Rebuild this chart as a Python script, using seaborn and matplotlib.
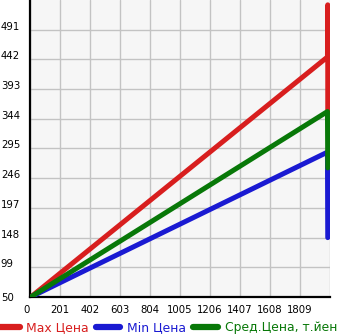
import matplotlib
matplotlib.use("Agg")
import matplotlib.pyplot as plt
import seaborn as sns
import pandas as pd
from matplotlib.lines import Line2D

# Data
max_x = [5, 1993, 1995, 1995]
max_y = [50, 446, 532, 353]
min_x = [5, 1993, 1995]
min_y = [50, 289, 148]
avg_x = [5, 1993, 1995]
avg_y = [50, 356, 263]

series_names = ["Max Цена", "Min Цена", "Сред.Цена, т.йен"]
series_colors = ["#d81e1e", "#1a1ad2", "#087808"]

x_ticks = [0, 201, 402, 603, 804, 1005, 1206, 1407, 1608, 1809]
y_ticks = [50, 99, 148, 197, 246, 295, 344, 393, 442, 491]

sns.set_theme(style="white")
plt.rcParams['font.family'] = ['DejaVu Sans']

fig = plt.figure(figsize=(3.45, 3.35), dpi=100)
ax = fig.add_axes([30/345, 38/335, 300/345, 297/335])
ax.set_facecolor("#f6f6f6")

frames = []
for name, xs, ys in zip(series_names, [max_x, min_x, avg_x], [max_y, min_y, avg_y]):
    frames.append(pd.DataFrame({"x": xs, "y": ys, "s": name}))
df = pd.concat(frames, ignore_index=True)

sns.lineplot(data=df, x="x", y="y", hue="s", palette=dict(zip(series_names, series_colors)),
             estimator=None, sort=False, units="s", lw=3.6, ax=ax, legend=False,
             solid_capstyle="round", zorder=3)

ax.set_xlim(0, 2010)
ax.set_ylim(50, 540)
ax.set_xticks(x_ticks + [2010])
ax.set_xticklabels([str(v) for v in x_ticks] + [""])
ax.set_yticks(y_ticks)
ax.set_yticklabels([str(v) for v in y_ticks])
ax.set_xlabel("")
ax.set_ylabel("")

ax.grid(True, color="#c3c3c3", lw=1.0, zorder=0)
ax.set_axisbelow(True)
for s in ["top", "right"]:
    ax.spines[s].set_visible(False)
for s in ["left", "bottom"]:
    ax.spines[s].set_color("black")
    ax.spines[s].set_linewidth(1.6)

ax.tick_params(axis="both", which="both", direction="out", length=3, width=1,
               color="black", labelsize=7.3, labelcolor="black")
ax.tick_params(axis="y", pad=18)
ax.tick_params(axis="x", pad=3)
ylabs = ax.get_yticklabels()
for i, lab in enumerate(ylabs):
    lab.set_ha("left")
    if i > 0:
        lab.set_va("baseline")
xlabs = ax.get_xticklabels()
xlabs[0].set_ha("right")

handles = [Line2D([0], [0], color=c, lw=4.5, solid_capstyle="round") for c in series_colors]
leg = fig.legend(handles, series_names, loc="center left", bbox_to_anchor=(-0.015, 7/335),
                 ncol=3, frameon=False, fontsize=8.9, handlelength=2.0, handletextpad=0.55,
                 columnspacing=0.55, borderaxespad=0, borderpad=0)
for t, c in zip(leg.get_texts(), series_colors):
    t.set_color(c)

fig.savefig("out.png", dpi=100)
